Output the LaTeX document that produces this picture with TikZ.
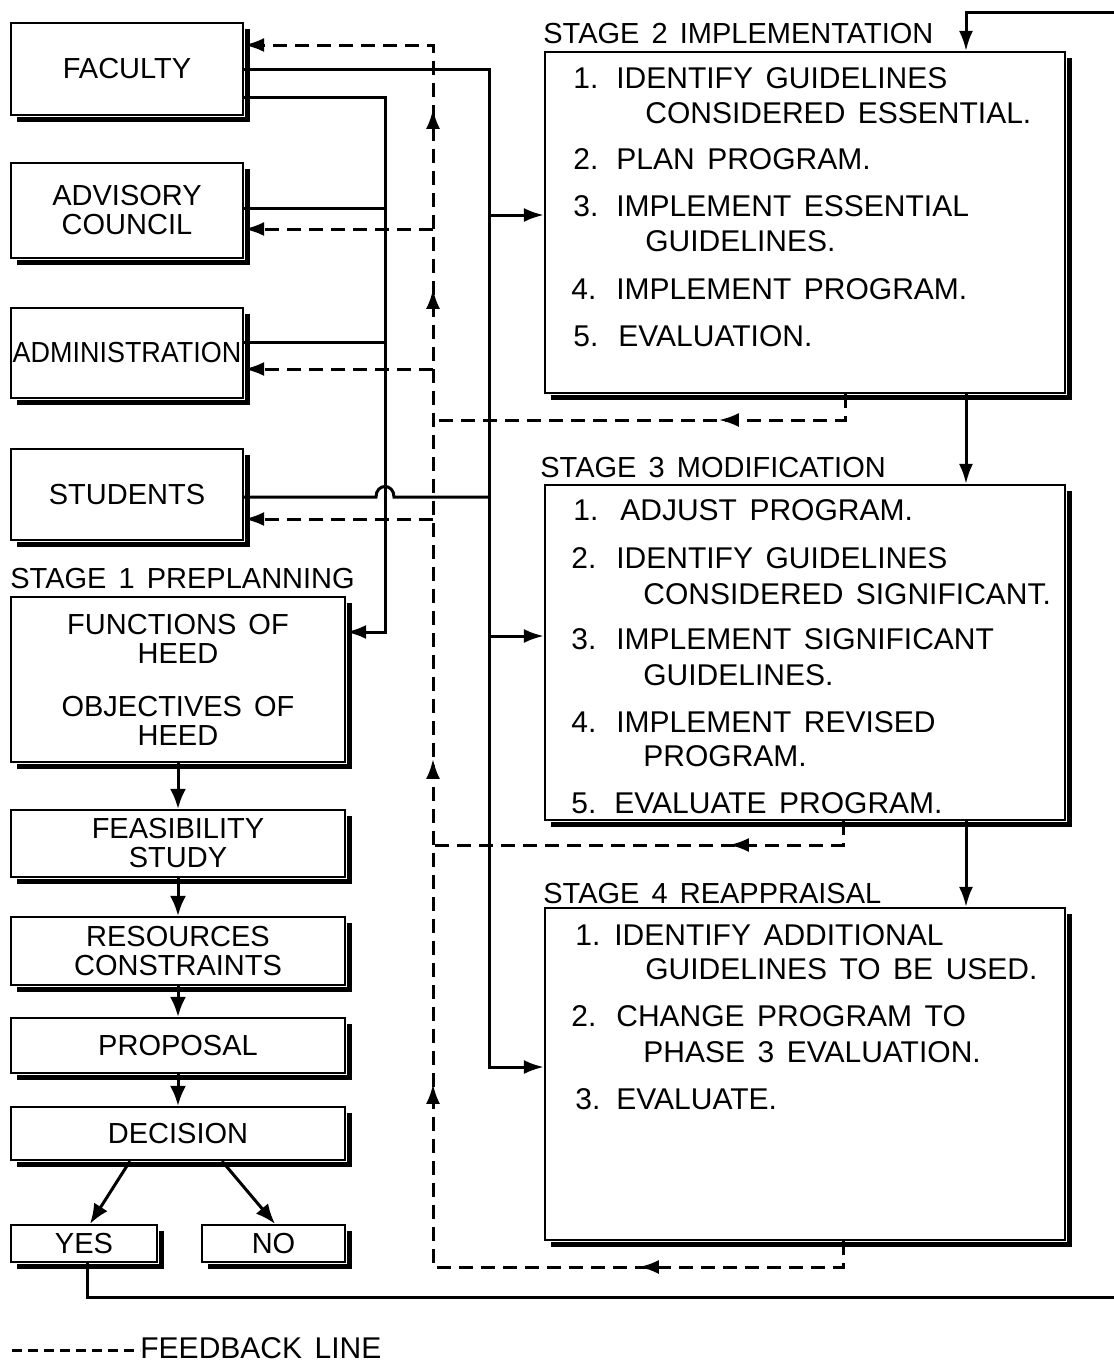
\documentclass[tikz,border=0pt]{standalone}
\usepackage{fontspec}
\usepackage{graphicx}
\setmainfont{Liberation Sans}[WordSpace=1.5]
\usetikzlibrary{arrows.meta,calc,decorations.markings}
\newcommand\lfont{\fontsize{14.5}{14.5}\selectfont}
\newcommand\ifont{\fontsize{15}{17}\selectfont}
\begin{document}
\begin{tikzpicture}[x=0.5pt,y=-0.5pt,
  lbox/.style={draw, line width=1.1pt, inner sep=0pt, align=center, font=\lfont},
  sbox/.style={draw, line width=1.1pt, inner sep=0pt, minimum width=260pt},
  item/.style={anchor=base west, inner sep=0pt, font=\ifont},
  lab/.style={anchor=base west, inner sep=0pt, font=\lfont},
  conn/.style={line width=1.5pt},
  tip/.style={-{Latex[length=10pt,width=7pt]}},
  arr/.style={conn, tip},
  fb/.style={line width=1.5pt, dash pattern=on 7pt off 4pt},
  shad/.style={line width=2.5pt, line cap=butt, line join=miter}
]
\useasboundingbox (0,0) rectangle (1114,1362);

% left column
\node[lbox, minimum width=116pt, minimum height=46pt] (fac) at (127,69) {FACULTY};
\node[lbox, minimum width=116pt, minimum height=47.5pt] (adv) at (127,210.5) {ADVISORY\\COUNCIL};
\node[lbox, minimum width=116pt, minimum height=45pt] (adm) at (127,353) {\scalebox{0.93}[1]{ADMINISTRATION}};
\node[lbox, minimum width=116pt, minimum height=45.5pt] (stu) at (127,494.5) {STUDENTS};
\node[lab] (lab1) at (10,588) {STAGE 1 PREPLANNING};
\node[lbox, minimum width=167pt, minimum height=82.5pt] (fun) at (178,679.5) {FUNCTIONS OF\\HEED\\[12pt]OBJECTIVES OF\\HEED};
\node[lbox, minimum width=167pt, minimum height=33.5pt] (fea) at (178,843.5) {FEASIBILITY\\STUDY};
\node[lbox, minimum width=167pt, minimum height=34pt] (res) at (178,951) {RESOURCES\\CONSTRAINTS};
\node[lbox, minimum width=167pt, minimum height=27.5pt] (pro) at (178,1045.5) {PROPOSAL};
\node[lbox, minimum width=167pt, minimum height=26.5pt] (dec) at (178,1133.5) {DECISION};
\node[lbox, minimum width=73pt, minimum height=18.5pt] (yes) at (84,1243.5) {YES};
\node[lbox, minimum width=71.5pt, minimum height=18.5pt] (no) at (273.5,1243.5) {NO};

% stage boxes
\node[lab] (lab2) at (543,43) {STAGE 2 IMPLEMENTATION};
\node[sbox, minimum height=170.5pt] (s2) at (805,222.5) {};
\node[lab] (lab3) at (540,477) {STAGE 3 MODIFICATION};
\node[sbox, minimum height=167.5pt] (s3) at (805,652.5) {};
\node[lab] (lab4) at (543,903) {STAGE 4 REAPPRAISAL};
\node[sbox, minimum height=166pt] (s4) at (805,1074) {};

% stage 2 items
\node[item] (s2a) at (573,88) {\makebox[21.5pt][l]{1.}IDENTIFY GUIDELINES};
\node[item] (s2b) at (645,123) {CONSIDERED ESSENTIAL.};
\node[item] (s2c) at (573,169) {\makebox[21.5pt][l]{2.}PLAN PROGRAM.};
\node[item] (s2d) at (573,216) {\makebox[21.5pt][l]{3.}IMPLEMENT ESSENTIAL};
\node[item] (s2e) at (645,251) {GUIDELINES.};
\node[item] (s2f) at (571,299) {\makebox[22.5pt][l]{4.}IMPLEMENT PROGRAM.};
\node[item] (s2g) at (573,346) {\makebox[22.5pt][l]{5.}EVALUATION.};

% stage 3 items
\node[item] (s3a) at (573,520) {\makebox[23.5pt][l]{1.}ADJUST PROGRAM.};
\node[item] (s3b) at (571,568) {\makebox[22.5pt][l]{2.}IDENTIFY GUIDELINES};
\node[item] (s3c) at (643,604) {CONSIDERED SIGNIFICANT.};
\node[item] (s3d) at (571,649) {\makebox[22.5pt][l]{3.}IMPLEMENT SIGNIFICANT};
\node[item] (s3e) at (643,685) {GUIDELINES.};
\node[item] (s3f) at (571,732) {\makebox[22.5pt][l]{4.}IMPLEMENT REVISED};
\node[item] (s3g) at (643,766) {PROGRAM.};
\node[item] (s3h) at (571,813) {\makebox[21.5pt][l]{5.}EVALUATE PROGRAM.};

% stage 4 items
\node[item] (s4a) at (575,945) {\makebox[19.5pt][l]{1.}IDENTIFY ADDITIONAL};
\node[item] (s4b) at (645,979) {GUIDELINES TO BE USED.};
\node[item] (s4c) at (571,1026) {\makebox[22.5pt][l]{2.}CHANGE PROGRAM TO};
\node[item] (s4d) at (643,1062) {PHASE 3 EVALUATION.};
\node[item] (s4e) at (575,1109) {\makebox[20.5pt][l]{3.}EVALUATE.};

% shadows
\foreach \n in {fac,adv,adm,stu,fun,fea,res,pro,dec,yes,no,s2,s3,s4}
  \draw[shad] ($(\n.north east)+(3.5,7)$) -- ($(\n.south east)+(3.5,3.5)$) -- ($(\n.south west)+(7,3.5)$);

% solid connectors from faculty etc.
\coordinate (b2) at (489,215);
\coordinate (b3) at (489,636);
\coordinate (b4) at (489,1067);
\coordinate (v1) at (385,97);
\coordinate (v2) at (385,632);
\draw[conn] (fac.east) -| (b2);
\draw[arr] (b2) -- (s2.west |- b2);
\draw[arr] (b2) -- (b3) -- (s3.west |- b3);
\draw[arr] (b3) -- (b4) -- (s4.west |- b4);
\draw[arr] (fac.east |- v1) -- (v1) -- (v2) -- (fun.east |- v2);
\draw[conn] (adv.east |- 0,208) -- (385,208);
\draw[conn] (adm.east |- 0,342) -- (385,342);
\draw[conn] (stu.east |- 0,497) -- (376,497) .. controls (376,483) and (394,483) .. (394,497) -- (489,497);

% stage flow
\draw[arr] (s2.south -| 966,0) -- (s3.north -| 966,0);
\draw[arr] (s3.south -| 966,0) -- (s4.north -| 966,0);

% left column flow
\tikzset{bigtip/.style={line width=1.5pt, -{Latex[length=10pt,width=8pt]}}}
\draw[bigtip] (fun.south) -- (fea.north);
\draw[bigtip] (fea.south) -- (res.north);
\draw[bigtip] (res.south) -- (pro.north);
\draw[bigtip] (pro.south) -- (dec.north);
\draw[bigtip] (dec.south -| 130,0) -- (yes.north -| 90,0);
\draw[bigtip] (dec.south -| 222,0) -- (no.north -| 275,0);

% YES return to stage 2
\draw[arr] (yes.south -| 87,0) -- (87,1297) -- (1118,1297) -- (1118,12) -- (966,12) -- (s2.north -| 966,0);

% feedback lines
\draw[fb, tip, postaction={decorate}, decoration={markings,
   mark=at position 115pt with {\arrow{Latex[length=10pt,width=7pt]}},
   mark=at position 309.5pt with {\arrow{Latex[length=10pt,width=7pt]}},
   mark=at position 472pt with {\arrow{Latex[length=10pt,width=7pt]}},
   mark=at position 707pt with {\arrow{Latex[length=10pt,width=7pt]}},
   mark=at position 797pt with {\arrow{Latex[length=10pt,width=7pt]}}}]
   (s4.south -| 843,0) -- (843,1267) -- (433,1267) -- (433,45) -- (fac.east |- 0,45);
\draw[fb, postaction={decorate}, decoration={markings,
   mark=at position 76pt with {\arrow{Latex[length=10pt,width=7pt]}}}]
   (s2.south -| 845,0) -- (845,420) -- (433,420);
\draw[fb, postaction={decorate}, decoration={markings,
   mark=at position 69pt with {\arrow{Latex[length=10pt,width=7pt]}}}]
   (s3.south -| 843,0) -- (843,845) -- (433,845);
\draw[fb, tip] (433,229) -- (adv.east |- 0,229);
\draw[fb, tip] (433,369) -- (adm.east |- 0,369);
\draw[fb, tip] (433,519) -- (stu.east |- 0,519);

% legend
\node[anchor=base west, inner sep=0pt, font=\ifont] (leg) at (140,1358) {FEEDBACK LINE};
\coordinate (legs) at (12,1350);
\draw[line width=1.5pt, dash pattern=on 5pt off 3pt] (legs) -- (leg.west |- legs);
\end{tikzpicture}
\end{document}
